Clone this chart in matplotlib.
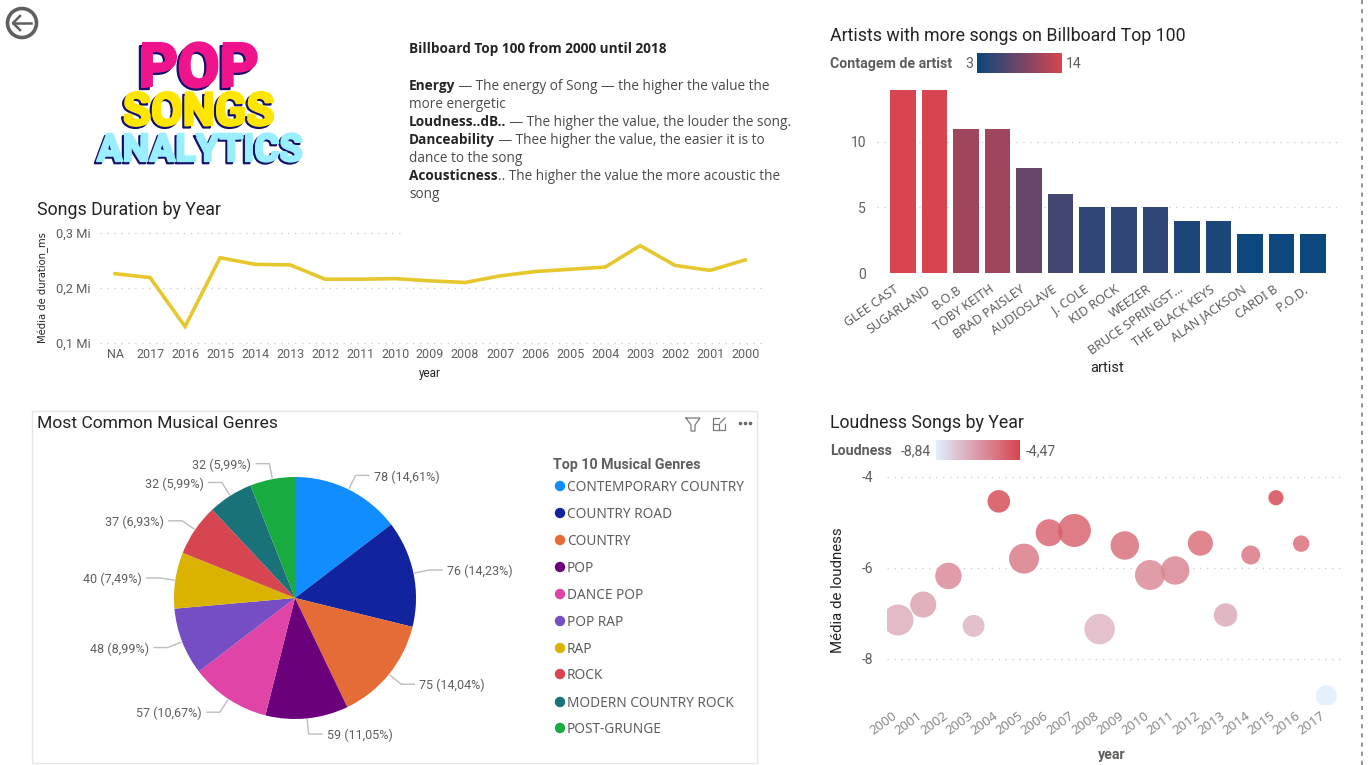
import numpy as np
import matplotlib
matplotlib.use('Agg')
import matplotlib.pyplot as plt
import matplotlib.patheffects as pe
from matplotlib.colors import LinearSegmentedColormap, Normalize
from matplotlib.patches import Circle, Rectangle
from matplotlib.transforms import ScaledTranslation

# songs duration by year
duration_years = ['NA', '2017', '2016', '2015', '2014', '2013', '2012', '2011', '2010', '2009',
                  '2008', '2007', '2006', '2005', '2004', '2003', '2002', '2001', '2000']
duration_ms = [0.226, 0.219, 0.130, 0.255, 0.243, 0.242, 0.216, 0.216, 0.217, 0.213,
               0.210, 0.222, 0.230, 0.234, 0.238, 0.277, 0.241, 0.232, 0.251]
duration_ticks = [0.1, 0.2, 0.3]
duration_tick_labels = ['0,1 Mi', '0,2 Mi', '0,3 Mi']

# artists
artists = ['GLEE CAST', 'SUGARLAND', 'B.O.B', 'TOBY KEITH', 'BRAD PAISLEY', 'AUDIOSLAVE', 'J. COLE',
           'KID ROCK', 'WEEZER', 'BRUCE SPRINGST...', 'THE BLACK KEYS', 'ALAN JACKSON', 'CARDI B', 'P.O.D.']
artist_counts = [14, 14, 11, 11, 8, 6, 5, 5, 5, 4, 4, 3, 3, 3]

# genres
genres = ['CONTEMPORARY COUNTRY', 'COUNTRY ROAD', 'COUNTRY', 'POP', 'DANCE POP', 'POP RAP', 'RAP',
          'ROCK', 'MODERN COUNTRY ROCK', 'POST-GRUNGE']
genre_counts = [78, 76, 75, 59, 57, 48, 40, 37, 32, 32]
genre_colors = ['#118DFF', '#12239E', '#E66C37', '#6B007B', '#E044A7', '#744EC2', '#D9B300',
                '#D64550', '#197278', '#1AAB40']

# loudness
loud_years = ['2000', '2001', '2002', '2003', '2004', '2005', '2006', '2007', '2008', '2009',
              '2010', '2011', '2012', '2013', '2014', '2015', '2016', '2017']
loudness = [-7.15, -6.81, -6.18, -7.28, -4.54, -5.80, -5.23, -5.18, -7.35, -5.51,
            -6.16, -6.06, -5.46, -7.04, -5.72, -4.46, -5.47, -8.82]
loud_songs = [96, 68, 70, 48, 51, 90, 73, 109, 93, 81, 90, 81, 63, 55, 36, 23, 27, 44]

W, H = 1370, 765
TITLE_FONT = 'Roboto'
BODY_FONT = 'Noto Sans'
NOTE_FONT = 'Open Sans'
DARK = '#252423'
GREY = '#605E5C'
GRID = '#D2D2D2'

fig = plt.figure(figsize=(W / 100, H / 100), dpi=100, facecolor='white')


def box(x0, y0, x1, y1, **kw):
    # axes from pixel corners of the picture
    return fig.add_axes([x0 / W, 1 - y1 / H, (x1 - x0) / W, (y1 - y0) / H], **kw)


def clean(ax):
    for s in ax.spines.values():
        s.set_visible(False)
    ax.set_facecolor('none')
    ax.grid(axis='y', color=GRID, linestyle=(0, (1, 4)), linewidth=1)
    ax.set_axisbelow(True)
    ax.tick_params(length=0)


def gradient(x0, y0, x1, y1, cmap):
    ax = box(x0, y0, x1, y1)
    ax.imshow(np.linspace(0, 1, 256).reshape(1, -1), aspect='auto', cmap=cmap)
    ax.axis('off')


def nudge_xlabels(ax, px):
    # rotated labels end a bit left of their tick
    shift = ScaledTranslation(px / 100, 0, fig.dpi_scale_trans)
    for lab in ax.get_xticklabels():
        lab.set_transform(lab.get_transform() + shift)


base = box(0, 0, W, H)
base.set_xlim(0, W)
base.set_ylim(H, 0)
base.axis('off')

# back arrow
base.add_patch(Circle((22, 23), 14.5, fill=False, ec='#5F5F5F', lw=2.6))
base.plot([13, 31], [23, 23], color='#5F5F5F', lw=1.8)
base.plot([20, 13, 20], [16, 23, 30], color='#5F5F5F', lw=1.8)

# logo
for word, cx, y, size, col, off in [('POP', 199, 86, 43.5, '#F0148C', 2.2),
                                    ('SONGS', 199, 125, 33, '#FFE600', 1.8),
                                    ('ANALYTICS', 200, 161, 27.5, '#99EEFF', 1.6)]:
    base.text(cx, y, word, ha='center', va='baseline', fontsize=size, color=col, family=TITLE_FONT, weight='bold',
              path_effects=[pe.Stroke(linewidth=1.6, foreground='#14106B', offset=(-off, -off)),
                            pe.Stroke(linewidth=1.6, foreground=col),
                            pe.Normal()])

# dashed edge on the right
base.plot([1362, 1362], [0, H], color='#808080', lw=1.2, linestyle=(0, (2.5, 3)))

# line chart
ax = box(100, 225, 763, 351)
clean(ax)
ax.plot(range(len(duration_years)), duration_ms, color='#E6C72D', lw=2.6, solid_joinstyle='miter')
ax.set_xlim(-0.43, 18.51)
ax.set_ylim(0.0855, 0.3145)
ax.set_xticks(range(len(duration_years)), duration_years, fontsize=9, color=GREY, family=TITLE_FONT)
ax.set_yticks(duration_ticks, duration_tick_labels, fontsize=9.3, color=GREY, family=TITLE_FONT)
ax.tick_params(axis='x', pad=-2)
ax.tick_params(axis='y', pad=7)
base.text(37, 215, 'Songs Duration by Year', fontsize=12.8, color=DARK, family=TITLE_FONT, va='baseline')
base.text(43, 288, 'Média de duration_ms', fontsize=7.2, color=DARK, rotation=90, ha='center', va='center')
base.text(430, 373, 'year', fontsize=8.4, color=DARK, family=TITLE_FONT, ha='center', va='center')

# bar chart
cmap_bar = LinearSegmentedColormap.from_list('bar', ['#0C477D', '#D64550'])
norm_bar = Normalize(min(artist_counts), max(artist_counts))
ax = box(877, 85, 1338, 273)
clean(ax)
ax.bar(range(len(artists)), artist_counts, width=0.81, color=cmap_bar(norm_bar(artist_counts)))
ax.set_xlim(-0.824, 13.79)
ax.set_ylim(0, 14.35)
ax.set_yticks([0, 5, 10], ['0', '5', '10'], fontsize=10, color=GREY, family=TITLE_FONT)
ax.set_xticks(range(len(artists)), artists, fontsize=9, color=GREY, family=BODY_FONT,
              rotation=35, ha='right', rotation_mode='anchor')
ax.tick_params(axis='x', pad=7)
ax.tick_params(axis='y', pad=8)
nudge_xlabels(ax, -9)
base.text(830, 41, 'Artists with more songs on Billboard Top 100', fontsize=12.8, color=DARK,
          family=TITLE_FONT, va='baseline')
base.text(830, 68, 'Contagem de artist', fontsize=10.2, color=GREY, family=TITLE_FONT, weight='bold', va='baseline')
base.text(965, 68, '3', fontsize=10.2, color=GREY, family=TITLE_FONT, va='baseline')
base.text(1066, 68, '14', fontsize=10.2, color=GREY, family=TITLE_FONT, va='baseline')
gradient(977, 53, 1062, 73, cmap_bar)
base.text(1107, 368, 'artist', fontsize=10.5, color=DARK, family=TITLE_FONT, ha='center', va='center')

# pie panel
base.add_patch(Rectangle((32, 411), 725, 352, fill=False, ec='#E6E6E6', lw=1))
base.text(37, 428, 'Most Common Musical Genres', fontsize=12.6, color=DARK, family=TITLE_FONT, va='baseline')

ax = box(295 - 163, 598 - 163, 295 + 163, 598 + 163)
total = sum(genre_counts)
wedges, _ = ax.pie(genre_counts, colors=genre_colors, startangle=90, counterclock=False, radius=1)
ax.set_xlim(-1.347, 1.347)
ax.set_ylim(-1.347, 1.347)
for w, v in zip(wedges, genre_counts):
    a = np.deg2rad((w.theta1 + w.theta2) / 2)
    sx, sy = np.cos(a), np.sin(a)
    side = 1 if sx > 0 else -1
    ex, ey = 1.13 * sx, 1.13 * sy
    hx = ex + side * 0.11
    ax.plot([1.01 * sx, ex, hx], [1.01 * sy, ey, ey], color='#BDBDBD', lw=1, clip_on=False)
    label = f'{v} ({v / total * 100:.2f}%)'.replace('.', ',')
    ax.text(hx + side * 0.04, ey - 0.012, label, fontsize=9, color=GREY, family=TITLE_FONT,
            ha='left' if side > 0 else 'right', va='center', clip_on=False)

base.text(553, 469, 'Top 10 Musical Genres', fontsize=10.3, color=GREY, family=TITLE_FONT, weight='bold', va='baseline')
legend_y = [486, 513, 540, 567, 594, 621, 648, 674, 702, 728]
for name, col, y in zip(genres, genre_colors, legend_y):
    base.add_patch(Circle((560, y), 5.2, color=col, lw=0))
    base.text(567, y + 5, name, fontsize=9.8, color=GREY, family=BODY_FONT, va='baseline')

# panel icons
base.plot([686, 700, 695, 695, 691, 691, 686], [418, 418, 425, 431, 431, 425, 418], color='#7A7A7A', lw=0.9)
base.plot([719, 713, 713, 725, 725], [418, 418, 430, 430, 424], color='#7A7A7A', lw=0.9)
base.plot([713, 719, 719], [424, 424, 430], color='#7A7A7A', lw=0.9)
base.plot([720, 725], [423, 418], color='#7A7A7A', lw=0.9)
base.plot([740, 745, 750], [423, 423, 423], ls='', marker='o', ms=1.6, color='#6A6A6A')

# bubble chart
cmap_loud = LinearSegmentedColormap.from_list('loud', ['#E0EEFF', '#D64550'])
norm_loud = Normalize(-8.84, -4.47)
ax = box(887, 470, 1343, 705)
clean(ax)
ax.scatter(range(len(loud_years)), loudness, s=np.array(loud_songs) * 5.18, color=cmap_loud(norm_loud(loudness)),
           alpha=0.82, linewidths=0)
ax.set_xlim(-0.437, 17.66)
ax.set_ylim(-9.02, -3.85)
ax.set_yticks([-8, -6, -4], ['-8', '-6', '-4'], fontsize=10, color=GREY, family=TITLE_FONT)
ax.set_xticks(range(len(loud_years)), loud_years, fontsize=9.5, color='#8A8886', family=BODY_FONT,
              rotation=36, ha='right', rotation_mode='anchor')
ax.tick_params(axis='x', pad=3)
ax.tick_params(axis='y', pad=10)
nudge_xlabels(ax, -6)
base.text(830, 428, 'Loudness Songs by Year', fontsize=12.8, color=DARK, family=TITLE_FONT, va='baseline')
base.text(830, 455, 'Loudness', fontsize=10.2, color=GREY, family=TITLE_FONT, weight='bold', va='baseline')
base.text(901, 455, '-8,84', fontsize=10.2, color=GREY, family=TITLE_FONT, va='baseline')
base.text(1026, 455, '-4,47', fontsize=10.2, color=GREY, family=TITLE_FONT, va='baseline')
gradient(936, 440, 1020, 460, cmap_loud)
base.text(838, 590, 'Média de loudness', fontsize=10.8, color=DARK, family=TITLE_FONT, rotation=90,
          ha='center', va='center')
base.text(1112, 755, 'year', fontsize=10.2, color=GREY, family=TITLE_FONT, weight='bold', ha='center', va='center')

# text box sits on top of the line chart gridline
top = box(0, 0, W, H)
top.set_xlim(0, W)
top.set_ylim(H, 0)
top.axis('off')
top.patch.set_alpha(0)
top.add_patch(Rectangle((404, 30), 390, 207, fc='white', ec='none'))
rend = fig.canvas.get_renderer()
note_lines = [(53, 'Billboard Top 100 from 2000 until 2018', ''),
              (90, 'Energy', ' — The energy of Song — the higher the value the'),
              (108, '', 'more energetic'),
              (126, 'Loudness..dB..', ' — The higher the value, the louder the song.'),
              (144, 'Danceability', ' — Thee higher the value, the easier it is to'),
              (162, '', 'dance to the song'),
              (180, 'Acousticness', '.. The higher the value the more acoustic the'),
              (198, '', 'song')]
for y, bold, plain in note_lines:
    x = 409
    if bold:
        t = top.text(x, y, bold, fontsize=9.8, family=NOTE_FONT, weight='bold', color=DARK, va='baseline')
        x += t.get_window_extent(rend).width
    if plain:
        top.text(x, y, plain.replace(' ', '\u00a0', 1) if bold else plain, fontsize=9.8, family=NOTE_FONT,
                 color='#4A4A4A', va='baseline')

fig.savefig('out.png', dpi=100, facecolor='white')
